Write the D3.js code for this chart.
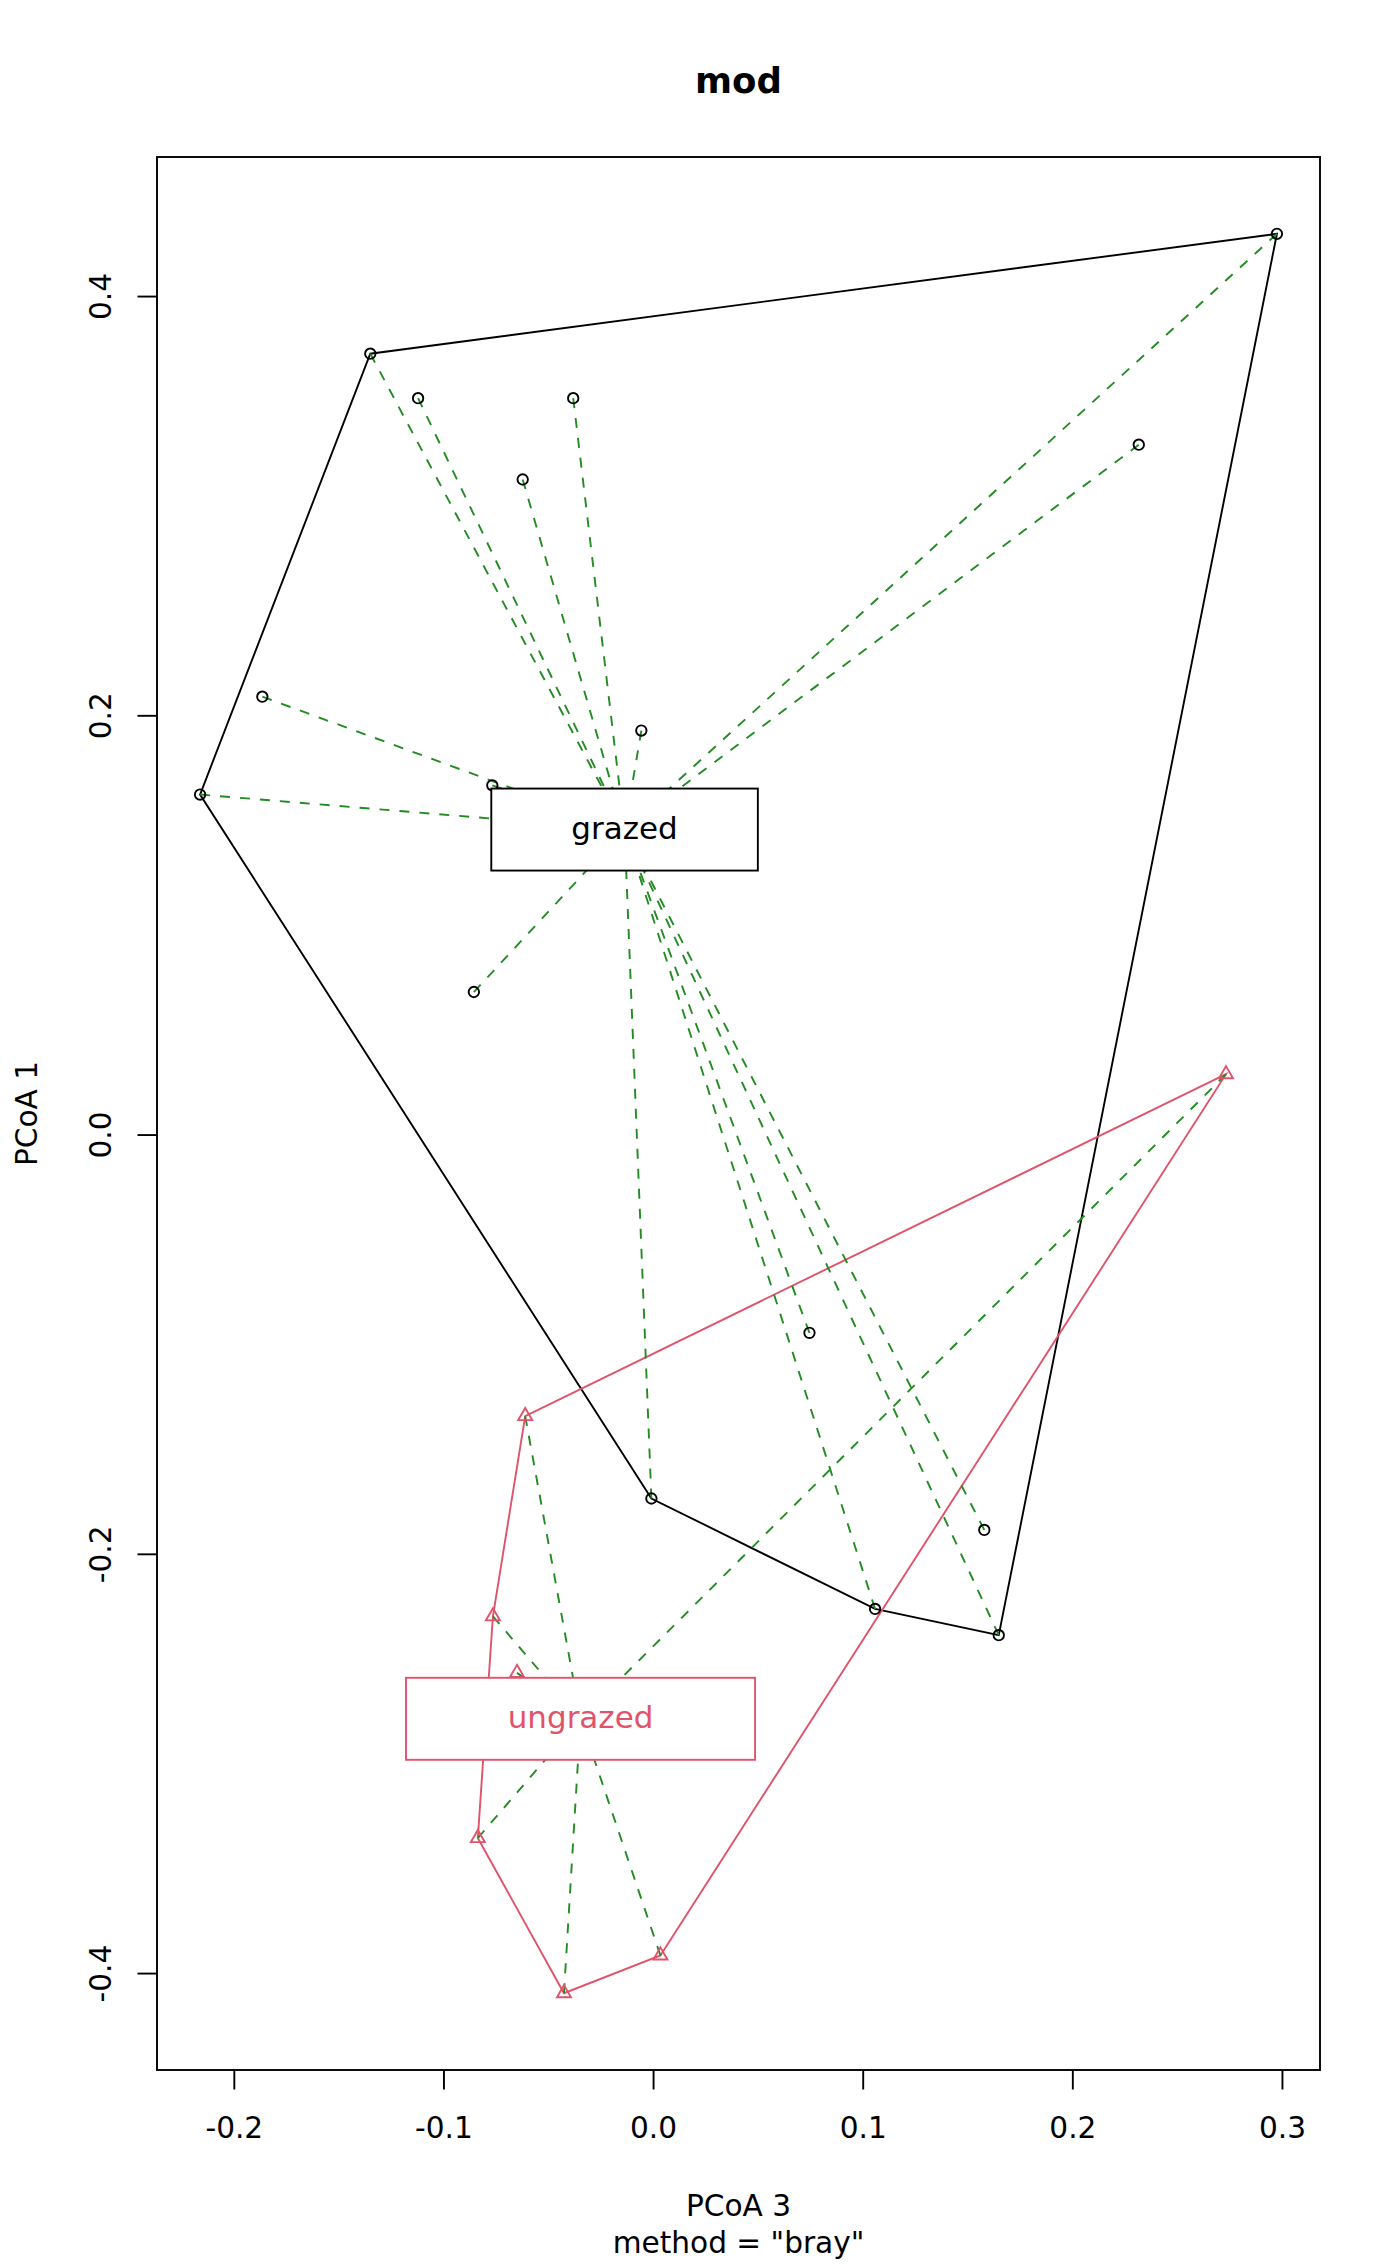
<!DOCTYPE html>
<html>
<head>
<meta charset="utf-8">
<script src="https://cdn.jsdelivr.net/npm/d3@7"></script>
<style>
  body { margin: 0; background: #fff; }
  svg text { font-family: "DejaVu Sans", sans-serif; }
</style>
</head>
<body>
<div class="chart"></div>
<script>
// betadisper plot: PCoA 3 vs PCoA 1, grazed / ungrazed
const groups = ['grazed', 'ungrazed'];
const groupColors = ['#000000', '#DF536B'];

const grazedX = [0.2976, -0.1349, -0.1121, -0.0381, -0.0622, 0.2317, -0.1864, -0.2161,
                 -0.0767, -0.0056, -0.0855, 0.0746, -0.0008, 0.1059, 0.1649, 0.1580];
const grazedY = [0.4297, 0.3725, 0.3513, 0.3513, 0.3125, 0.3291, 0.2089, 0.1622,
                 0.1666, 0.1927, 0.0680, -0.0946, -0.1736, -0.2263, -0.2388, -0.1886];

const ungrazedX = [0.2733, -0.0610, -0.0764, -0.0649, -0.0836, -0.0425, 0.0035];
const ungrazedY = [0.0288, -0.1343, -0.2298, -0.2568, -0.3356, -0.4096, -0.3916];

const centroidX = [-0.0136, -0.0346];
const centroidY = [0.1455, -0.2787];

const xTicks = [-0.2, -0.1, 0.0, 0.1, 0.2, 0.3];
const yTicks = [-0.4, -0.2, 0.0, 0.2, 0.4];

const W = 1400, H = 2266;
const box = {left: 157, right: 1320, top: 157, bottom: 2070};
const fs = 29.6;
const segCol = '#228B22';
const lw = 1.9;

const sites = [
  ...grazedX.map((x, i) => ({x: x, y: grazedY[i], g: 0})),
  ...ungrazedX.map((x, i) => ({x: x, y: ungrazedY[i], g: 1}))
];

// x limits: data range + 4%, y limits stretched for asp = 1
const xe = d3.extent(sites, d => d.x);
const ye = d3.extent(sites, d => d.y);
const xpad = (xe[1] - xe[0]) * 0.04;
const xDom = [xe[0] - xpad, xe[1] + xpad];
const pxPerUnit = (box.right - box.left) / (xDom[1] - xDom[0]);
const yMid = (ye[0] + ye[1]) / 2;
const yHalf = (box.bottom - box.top) / 2 / pxPerUnit;

const x = d3.scaleLinear().domain(xDom).range([box.left, box.right]);
const y = d3.scaleLinear().domain([yMid - yHalf, yMid + yHalf]).range([box.bottom, box.top]);

// R prints a plain hyphen for negatives
const fmt = d => d.toFixed(1);

const svg = d3.select('.chart').append('svg')
  .attr('width', W).attr('height', H);

svg.append('rect').attr('width', W).attr('height', H).attr('fill', '#fff');

// hulls
groups.forEach((g, gi) => {
  const pts = sites.filter(d => d.g === gi).map(d => [x(d.x), y(d.y)]);
  const hull = d3.polygonHull(pts);
  svg.append('path')
    .attr('d', 'M' + hull.join('L') + 'Z')
    .attr('fill', 'none')
    .attr('stroke', groupColors[gi])
    .attr('stroke-width', lw);
});

// spider segments to centroids
svg.append('g').selectAll('line')
  .data(sites)
  .join('line')
  .attr('x1', d => x(d.x)).attr('y1', d => y(d.y))
  .attr('x2', d => x(centroidX[d.g])).attr('y2', d => y(centroidY[d.g]))
  .attr('stroke', segCol)
  .attr('stroke-width', lw)
  .attr('stroke-dasharray', '10,10');

// points: pch 1 circles and pch 2 triangles
const rad = 5.2;
const trc0 = Math.sqrt(4 * Math.PI / (3 * Math.sqrt(3)));
const tr = trc0 * rad, txc = trc0 * Math.sqrt(3) / 2 * rad, tyc = trc0 / 2 * rad;

svg.append('g').selectAll('circle')
  .data(sites.filter(d => d.g === 0))
  .join('circle')
  .attr('cx', d => x(d.x)).attr('cy', d => y(d.y))
  .attr('r', rad)
  .attr('fill', 'none')
  .attr('stroke', groupColors[0])
  .attr('stroke-width', lw);

svg.append('g').selectAll('path')
  .data(sites.filter(d => d.g === 1))
  .join('path')
  .attr('d', d => {
    const cx = x(d.x), cy = y(d.y);
    return `M${cx},${cy - tr}L${cx + txc},${cy + tyc}L${cx - txc},${cy + tyc}Z`;
  })
  .attr('fill', 'none')
  .attr('stroke', groupColors[1])
  .attr('stroke-width', lw);

// centroid labels (ordilabel)
groups.forEach((g, gi) => {
  const cx = x(centroidX[gi]), cy = y(centroidY[gi]);
  const lab = svg.append('g');
  const r = lab.append('rect');
  const t = lab.append('text')
    .attr('x', cx).attr('y', cy + 0.3 * 31)
    .attr('text-anchor', 'middle')
    .attr('font-size', 31)
    .attr('fill', groupColors[gi])
    .text(g);
  const tw = t.node().getComputedTextLength();
  const bw = 2.1 * tw + 43, bh = 82;
  r.attr('x', cx - bw / 2).attr('y', cy - bh / 2)
    .attr('width', bw).attr('height', bh)
    .attr('fill', '#fff')
    .attr('stroke', groupColors[gi])
    .attr('stroke-width', lw);
});

// plot box
svg.append('rect')
  .attr('x', box.left).attr('y', box.top)
  .attr('width', box.right - box.left).attr('height', box.bottom - box.top)
  .attr('fill', 'none').attr('stroke', '#000').attr('stroke-width', lw);

// axes
const xAxis = svg.append('g')
  .attr('transform', `translate(0,${box.bottom})`)
  .call(d3.axisBottom(x).tickValues(xTicks).tickSize(19.5).tickFormat(fmt));
xAxis.select('.domain').remove();
xAxis.selectAll('line').attr('stroke', '#000').attr('stroke-width', lw);
xAxis.selectAll('text')
  .attr('y', 68).attr('dy', 0)
  .attr('font-size', fs).attr('font-family', '"DejaVu Sans", sans-serif').attr('fill', '#000');

const yAxis = svg.append('g')
  .attr('transform', `translate(${box.left},0)`)
  .call(d3.axisLeft(y).tickValues(yTicks).tickSize(19.5).tickFormat(fmt));
yAxis.select('.domain').remove();
yAxis.selectAll('line').attr('stroke', '#000').attr('stroke-width', lw);
yAxis.selectAll('text')
  .attr('x', 0).attr('dy', 0)
  .attr('transform', 'translate(-46,0) rotate(-90)')
  .attr('text-anchor', 'middle')
  .attr('font-size', fs).attr('font-family', '"DejaVu Sans", sans-serif').attr('fill', '#000');

// titles
const midX = (box.left + box.right) / 2;
svg.append('text')
  .attr('x', midX).attr('y', 92.5)
  .attr('text-anchor', 'middle')
  .attr('font-size', 35.5).attr('font-weight', 'bold')
  .text('mod');

svg.append('text')
  .attr('x', midX).attr('y', 2216)
  .attr('text-anchor', 'middle')
  .attr('font-size', fs)
  .text('PCoA 3');

svg.append('text')
  .attr('x', midX).attr('y', 2253)
  .attr('text-anchor', 'middle')
  .attr('font-size', fs)
  .text('method = "bray"');

svg.append('text')
  .attr('transform', `translate(37,${(box.top + box.bottom) / 2}) rotate(-90)`)
  .attr('text-anchor', 'middle')
  .attr('font-size', fs)
  .text('PCoA 1');
</script>
</body>
</html>
